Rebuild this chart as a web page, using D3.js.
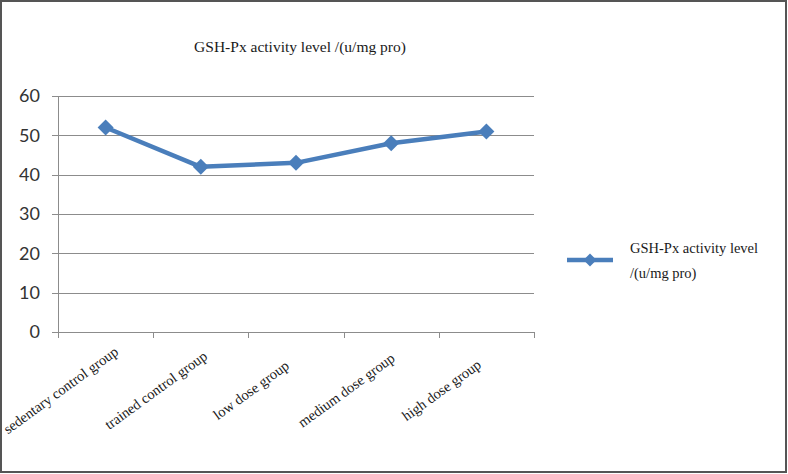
<!DOCTYPE html>
<html>
<head>
<meta charset="utf-8">
<script src="https://cdn.jsdelivr.net/npm/d3@7"></script>
<style>
  html, body { margin: 0; padding: 0; background: #fff; }
  svg { display: block; }
</style>
</head>
<body>
<svg id="chart" width="788" height="474"></svg>
<script>
const categories = ["sedentary control group", "trained control group", "low dose group", "medium dose group", "high dose group"];
const values = [52, 42, 43, 48, 51];
const yTicks = [0, 10, 20, 30, 40, 50, 60];
const title = "GSH-Px activity level /(u/mg pro)";
const legendLines = ["GSH-Px activity level", "/(u/mg pro)"];

const svg = d3.select("#chart");
const lineColor = "#4A7EBB";
const gridColor = "#8c8c8c";
const serif = "'Liberation Serif', 'Times New Roman', serif";

// outer frame
svg.append("rect").attr("x", 1).attr("y", 1).attr("width", 785).attr("height", 471)
  .attr("fill", "#fff").attr("stroke", "#555").attr("stroke-width", 2);

const plot = { left: 58, right: 534, top: 96, bottom: 332 };

const x = d3.scaleBand().domain(categories).range([plot.left, plot.right]).padding(0);
const y = d3.scaleLinear().domain([0, 60]).range([plot.bottom, plot.top]);

// title
svg.append("text").attr("x", 300).attr("y", 52).attr("text-anchor", "middle")
  .attr("font-family", serif).attr("font-size", 15.5).attr("fill", "#1a1a1a").text(title);

// gridlines
svg.append("g").selectAll("line").data(yTicks).join("line")
  .attr("x1", plot.left - 6).attr("x2", plot.right)
  .attr("y1", d => Math.round(y(d)) + 0.5).attr("y2", d => Math.round(y(d)) + 0.5)
  .attr("stroke", gridColor).attr("stroke-width", 1);

// y axis line
svg.append("line").attr("x1", plot.left + 0.5).attr("x2", plot.left + 0.5)
  .attr("y1", plot.top).attr("y2", plot.bottom)
  .attr("stroke", gridColor).attr("stroke-width", 1);

// y labels
svg.append("g").selectAll("text").data(yTicks).join("text")
  .attr("x", 40).attr("y", d => y(d)).attr("dy", "0.35em").attr("text-anchor", "end")
  .attr("font-family", "Lato, 'Open Sans', sans-serif").attr("font-size", 18).attr("fill", "#333")
  .text(d => d);

// x tick marks at band boundaries
const bounds = categories.map(c => x(c)).concat([x(categories[categories.length - 1]) + x.bandwidth()]);
svg.append("g").selectAll("line").data(bounds).join("line")
  .attr("x1", d => Math.round(d) + 0.5).attr("x2", d => Math.round(d) + 0.5)
  .attr("y1", plot.bottom).attr("y2", plot.bottom + 6)
  .attr("stroke", gridColor).attr("stroke-width", 1);

// x labels
svg.append("g").selectAll("text").data(categories).join("text")
  .attr("transform", d => `translate(${x(d) + x.bandwidth() / 2 - 45},390) rotate(-36)`)
  .attr("text-anchor", "middle").attr("dy", "0.35em")
  .attr("font-family", serif).attr("font-size", 14.5).attr("fill", "#1a1a1a")
  .text(d => d);

// line
const cx = d => x(d) + x.bandwidth() / 2;
svg.append("path").datum(values.map((v, i) => [cx(categories[i]), y(v)]))
  .attr("d", d3.line())
  .attr("fill", "none").attr("stroke", lineColor).attr("stroke-width", 4.5)
  .attr("stroke-linejoin", "round");

// diamonds
const diamond = (s) => `M0,${-s}L${s},0L0,${s}L${-s},0Z`;
svg.append("g").selectAll("path").data(values).join("path")
  .attr("transform", (d, i) => `translate(${cx(categories[i])},${y(d)})`)
  .attr("d", diamond(8)).attr("fill", lineColor);

// legend
svg.append("line").attr("x1", 567).attr("x2", 613).attr("y1", 260).attr("y2", 260)
  .attr("stroke", lineColor).attr("stroke-width", 4.5);
svg.append("path").attr("transform", "translate(590,260)").attr("d", diamond(6.5)).attr("fill", lineColor);
svg.append("g").selectAll("text").data(legendLines).join("text")
  .attr("x", 630).attr("y", (d, i) => 253 + i * 25)
  .attr("font-family", serif).attr("font-size", 14.5).attr("fill", "#1a1a1a")
  .text(d => d);
</script>
</body>
</html>
